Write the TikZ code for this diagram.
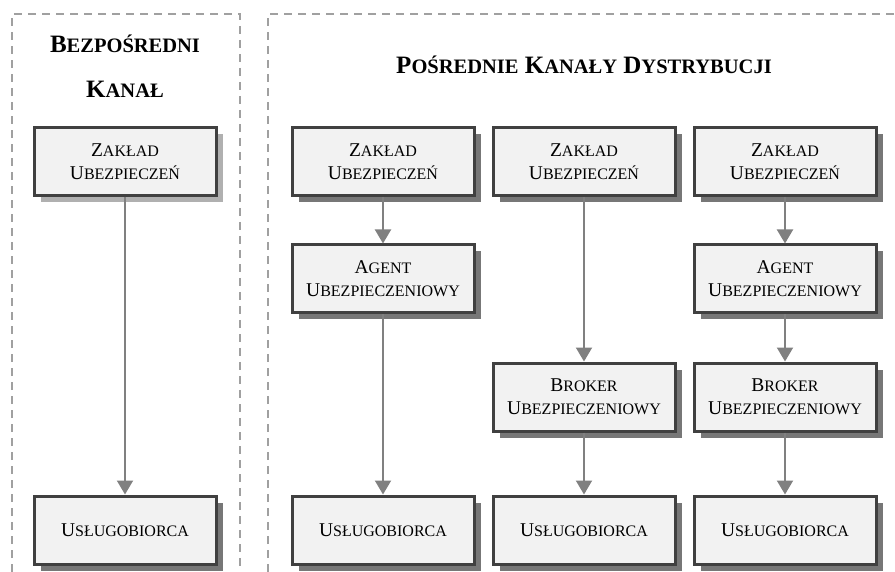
\documentclass[tikz,border=0pt]{standalone}
\usepackage{fontspec}
\setmainfont{Liberation Serif}
\usetikzlibrary{arrows.meta,shadows}

\definecolor{boxline}{HTML}{404040}
\definecolor{boxfill}{HTML}{F2F2F2}
\definecolor{shade}{HTML}{777777}
\definecolor{lightshade}{HTML}{B0B0B0}
\definecolor{arrowgray}{HTML}{808080}
\definecolor{framegray}{HTML}{A0A0A0}

% fake small caps: first letter large, rest smaller
\newcommand{\sk}[2]{#1{\fontsize{16}{23}\selectfont #2}}
\newcommand{\tk}[2]{#1{\fontsize{20.5}{23}\selectfont #2}}

\tikzset{
  stage/.style={draw=boxline, line width=3pt, fill=boxfill,
    minimum width=182pt, minimum height=68pt, align=center,
    inner sep=0pt, font=\fontsize{19.5}{23}\selectfont,
    drop shadow={shadow xshift=6.5pt, shadow yshift=-6.5pt, fill=shade, opacity=1}},
  flow/.style={draw=arrowgray, line width=2pt, -{Triangle[width=16pt,length=14pt]}},
  frame/.style={draw=framegray, line width=2pt, dash pattern=on 8pt off 6pt},
  heading/.style={font=\bfseries\fontsize{25}{45}\selectfont, align=center}
}

\begin{document}
\begin{tikzpicture}[x=1pt, y=-1pt]
  \useasboundingbox (0,0) rectangle (895,572);
  \clip (0,0) rectangle (895,572);

  % Frames
  \draw[frame] (12,600) -- (12,14) -- (240,14) -- (240,600);
  \draw[frame] (268,600) -- (268,14) -- (920,14);

  % Headings
  \node[heading] (h1) at (125,66) {\tk{B}{EZPOŚREDNI}\\\tk{K}{ANAŁ}};
  \node[heading] (h2) at (584,65) {\tk{P}{OŚREDNIE} \tk{K}{ANAŁY} \tk{D}{YSTRYBUCJI}};

  % Nodes
  \node[stage, drop shadow={shadow xshift=6.5pt, shadow yshift=-6.5pt, fill=lightshade, opacity=1}]
    (z1) at (125,161.5) {\sk{Z}{AKŁAD}\\\sk{U}{BEZPIECZEŃ}};
  \node[stage] (u1) at (125,530) {\sk{U}{SŁUGOBIORCA}};

  \node[stage] (z2) at (383,161.5) {\sk{Z}{AKŁAD}\\\sk{U}{BEZPIECZEŃ}};
  \node[stage] (a2) at (383,279) {\sk{A}{GENT}\\\sk{U}{BEZPIECZENIOWY}};
  \node[stage] (u2) at (383,530) {\sk{U}{SŁUGOBIORCA}};

  \node[stage] (z3) at (584,161.5) {\sk{Z}{AKŁAD}\\\sk{U}{BEZPIECZEŃ}};
  \node[stage] (b3) at (584,397) {\sk{B}{ROKER}\\\sk{U}{BEZPIECZENIOWY}};
  \node[stage] (u3) at (584,530) {\sk{U}{SŁUGOBIORCA}};

  \node[stage] (z4) at (785,161.5) {\sk{Z}{AKŁAD}\\\sk{U}{BEZPIECZEŃ}};
  \node[stage] (a4) at (785,279) {\sk{A}{GENT}\\\sk{U}{BEZPIECZENIOWY}};
  \node[stage] (b4) at (785,397) {\sk{B}{ROKER}\\\sk{U}{BEZPIECZENIOWY}};
  \node[stage] (u4) at (785,530) {\sk{U}{SŁUGOBIORCA}};

  % Edges
  \draw[flow] (z1) -- (u1);
  \draw[flow] (z2) -- (a2);
  \draw[flow] (a2) -- (u2);
  \draw[flow] (z3) -- (b3);
  \draw[flow] (b3) -- (u3);
  \draw[flow] (z4) -- (a4);
  \draw[flow] (a4) -- (b4);
  \draw[flow] (b4) -- (u4);
\end{tikzpicture}
\end{document}
